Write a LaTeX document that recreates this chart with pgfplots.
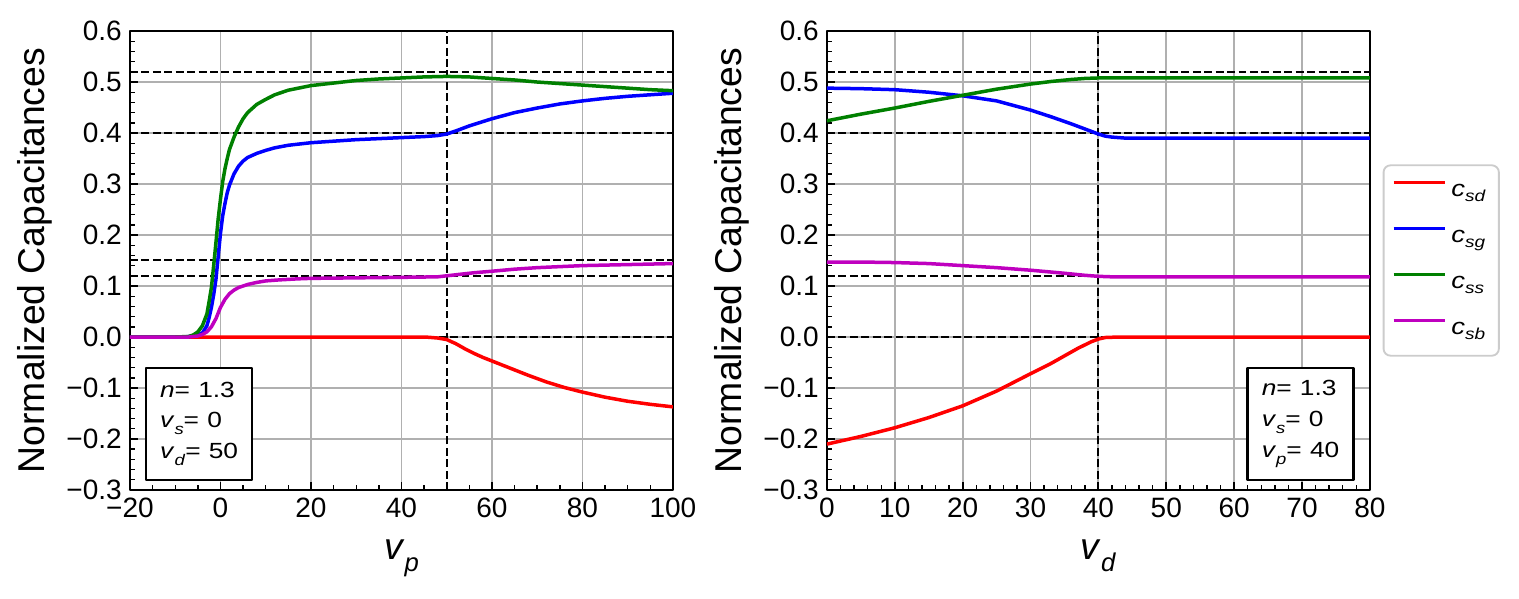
\documentclass[border=0pt]{standalone}
\usepackage{pgfplots}
\pgfplotsset{compat=1.18}
\usepackage{fontspec}
\setmainfont{Liberation Sans}
\newfontfamily\widefont[FakeStretch=1.2]{Liberation Sans}
\definecolor{cRed}{rgb}{1,0,0}
\definecolor{cBlue}{rgb}{0,0,1}
\definecolor{cGreen}{rgb}{0,0.5,0}
\definecolor{cMag}{rgb}{0.75,0,0.75}
\definecolor{gridgray}{HTML}{B0B0B0}
\definecolor{leggray}{rgb}{0.8,0.8,0.8}
\newcommand{\vsub}[4]{\textit{#1}\raisebox{-#3}{\fontsize{#2}{#2}\selectfont\textit{#4}}}
\tikzset{infobox/.style={draw=black, line width=1pt, minimum width=45.4pt, minimum height=48pt, align=left, fill=white, font=\widefont\fontsize{9.4}{13.2}\selectfont}}
\pgfplotsset{
 myaxis/.style={
  scale only axis, width=232.7pt, height=196.7pt,
  ymin=-0.3, ymax=0.6,
  ytick={-0.3,-0.2,-0.1,0,0.1,0.2,0.3,0.4,0.5,0.6},
  yticklabels={−0.3,−0.2,−0.1,0.0,0.1,0.2,0.3,0.4,0.5,0.6},
  minor y tick num=4,
  tick align=inside, tick pos=left,
  grid=major, major grid style={color=gridgray, line width=0.8pt},
  axis line style={line width=1pt},
  major tick length=3.5pt, minor tick length=2pt,
  major tick style={black, line width=0.8pt},
  minor tick style={black, line width=0.6pt},
  tick label style={font=\fontsize{12}{14}\selectfont},
  ylabel={Normalized Capacitances},
  every axis y label/.style={at={(axis description cs:-0.175,0.5)}, rotate=90, anchor=center, font=\fontsize{16}{19}\selectfont},
  every axis x label/.style={at={(axis description cs:0.5,-0.1525)}, anchor=base, font=\fontsize{16}{19}\selectfont},
  line join=round,
 },
 mydash/.style={black, line width=0.9pt, dash pattern=on 3.4pt off 1.5pt, forget plot},
 curve/.style={line width=1.5pt, no markers},
}
\begin{document}
\begin{tikzpicture}
\useasboundingbox (-55.7pt,-46.3pt) rectangle (595.3pt,210pt);
% ---------------- left ----------------
\begin{axis}[myaxis,
  xmin=-20, xmax=100,
  xtick={-20,0,20,40,60,80,100},
  xticklabels={−20,0,20,40,60,80,100},
  minor x tick num=3,
  xlabel={\vsub{v}{11}{0.3em}{p}},
]
\addplot[mydash] coordinates {(-20,0.52) (100,0.52)};
\addplot[mydash] coordinates {(-20,0.40) (100,0.40)};
\addplot[mydash] coordinates {(-20,0.151) (100,0.151)};
\addplot[mydash] coordinates {(-20,0.12) (100,0.12)};
\addplot[mydash] coordinates {(-20,0) (100,0)};
\addplot[mydash] coordinates {(50,-0.3) (50,0.6)};
% c_sd
\addplot[curve, cRed] coordinates {
(-20,0) (44,0) (46,-0.0005) (48,-0.002) (50,-0.005) (52,-0.013) (54,-0.023)
(56,-0.032) (58,-0.04) (60,-0.047) (64,-0.061) (68,-0.075) (72,-0.088)
(76,-0.099) (80,-0.108) (85,-0.118) (90,-0.126) (95,-0.132) (100,-0.137)};
% c_sg
\addplot[curve, cBlue] coordinates {
(-20,0) (-8,0) (-6,0.002) (-5,0.004) (-4,0.008) (-3,0.022) (-2.5,0.038)
(-2,0.058) (-1.5,0.083) (-1,0.113) (-0.5,0.158) (0,0.203) (0.5,0.238)
(1,0.262) (1.5,0.283) (2,0.298) (3,0.32) (4,0.335) (5,0.345) (6,0.352)
(8,0.36) (10,0.366) (12,0.371) (15,0.376) (20,0.381) (30,0.387) (40,0.391)
(45,0.393) (48,0.395) (50,0.398) (52,0.404) (55,0.414) (60,0.428)
(65,0.44) (70,0.449) (75,0.457) (80,0.463) (85,0.468) (90,0.472)
(95,0.475) (100,0.478)};
% c_ss
\addplot[curve, cGreen] coordinates {
(-20,0) (-10,0) (-7,0.001) (-6,0.004) (-5,0.01) (-4,0.022) (-3,0.045)
(-2.5,0.07) (-2,0.097) (-1.5,0.14) (-1,0.185) (-0.5,0.232) (0,0.27)
(0.5,0.305) (1,0.33) (1.5,0.35) (2,0.368) (3,0.392) (4,0.412) (5,0.428)
(6,0.44) (8,0.456) (10,0.466) (12,0.475) (15,0.484) (20,0.493) (25,0.498)
(30,0.503) (35,0.506) (40,0.508) (45,0.51) (50,0.511) (55,0.51)
(60,0.507) (65,0.504) (70,0.5) (75,0.497) (80,0.494) (85,0.491)
(90,0.488) (95,0.485) (100,0.483)};
% c_sb
\addplot[curve, cMag] coordinates {
(-20,0) (-7,0) (-5,0.002) (-4,0.005) (-3,0.01) (-2,0.02) (-1,0.036)
(0,0.058) (1,0.074) (2,0.085) (3,0.092) (4,0.097) (6,0.103) (8,0.107)
(10,0.11) (13,0.112) (17,0.114) (20,0.115) (30,0.116) (40,0.117)
(48,0.118) (50,0.12) (53,0.123) (56,0.126) (60,0.129) (65,0.133)
(70,0.136) (80,0.14) (90,0.142) (100,0.144)};
\node[infobox, anchor=south west] at (axis description cs:0.0276,0.0196)
 {\textit{n}=\hspace{3.5pt}1.3\\ \vsub{v}{6.6}{3pt}{s}=\hspace{3.5pt}0\\ \vsub{v}{6.6}{3pt}{d}=\hspace{3.5pt}50};
\end{axis}
% ---------------- right ----------------
\begin{axis}[myaxis, at={(298.7pt,0pt)},
  xmin=0, xmax=80,
  xtick={0,10,20,30,40,50,60,70,80},
  xticklabels={0,10,20,30,40,50,60,70,80},
  minor x tick num=4,
  xlabel={\vsub{v}{11}{0.3em}{d}},
  legend style={at={(axis description cs:1.0235,0.5)}, anchor=west,
    draw=leggray, line width=0.8pt, rounded corners=3pt,
    font=\widefont\fontsize{9.8}{10}\selectfont, inner xsep=3.6pt, inner ysep=5.5pt,
    row sep=8.2pt,
    cells={text height=6pt, text depth=2.5pt, inner ysep=0pt, inner xsep=0pt},
    /tikz/every odd column/.append style={column sep=0pt}},
  legend cell align=left,
  legend image code/.code={\draw[#1] (0pt,3.9pt) -- (22pt,3.9pt);},
]
\addplot[mydash] coordinates {(0,0.52) (80,0.52)};
\addplot[mydash] coordinates {(0,0.40) (80,0.40)};
\addplot[mydash] coordinates {(0,0.12) (80,0.12)};
\addplot[mydash] coordinates {(0,0) (80,0)};
\addplot[mydash] coordinates {(40,-0.3) (40,0.6)};
\addplot[curve, cRed] coordinates {
(0,-0.21) (5,-0.195) (10,-0.178) (15,-0.158) (20,-0.135) (25,-0.106)
(30,-0.072) (33,-0.052) (35,-0.037) (37,-0.022) (39,-0.009) (40,-0.004)
(41,-0.001) (43,0) (80,0)};
\addlegendentry{\vsub{c}{6.8}{2.1pt}{sd}}
\addplot[curve, cBlue] coordinates {
(0,0.488) (5,0.487) (10,0.485) (15,0.48) (20,0.473) (25,0.463) (30,0.445)
(33,0.432) (36,0.418) (38,0.408) (40,0.398) (41,0.394) (42,0.392)
(44,0.39) (80,0.39)};
\addlegendentry{\vsub{c}{6.8}{2.1pt}{sg}}
\addplot[curve, cGreen] coordinates {
(0,0.424) (5,0.437) (10,0.449) (15,0.462) (20,0.474) (25,0.486) (30,0.496)
(33,0.501) (36,0.505) (38,0.507) (40,0.508) (80,0.508)};
\addlegendentry{\vsub{c}{6.8}{2.1pt}{ss}}
\addplot[curve, cMag] coordinates {
(0,0.147) (5,0.147) (10,0.146) (15,0.144) (20,0.14) (25,0.136) (30,0.131)
(35,0.125) (38,0.121) (40,0.119) (42,0.118) (44,0.118) (80,0.118)};
\addlegendentry{\vsub{c}{6.8}{2.1pt}{sb}}
\node[infobox, anchor=south east] at (axis description cs:0.972,0.0196)
 {\textit{n}=\hspace{3.5pt}1.3\\ \vsub{v}{6.6}{3pt}{s}=\hspace{3.5pt}0\\ \vsub{v}{6.6}{3pt}{p}=\hspace{3.5pt}40};
\end{axis}
\end{tikzpicture}
\end{document}
